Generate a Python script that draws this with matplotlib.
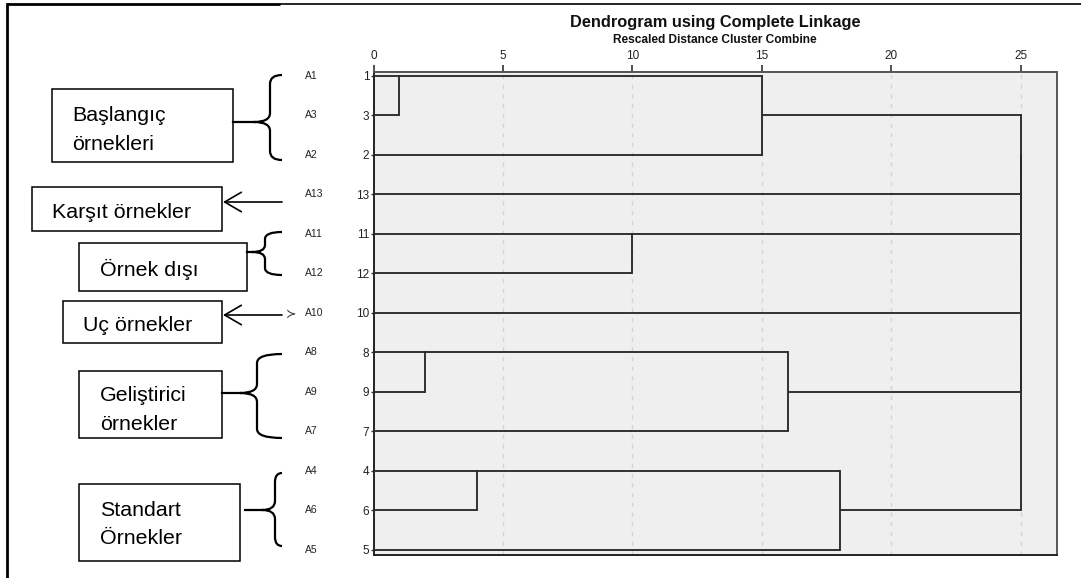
import matplotlib
matplotlib.use("Agg")
import matplotlib.pyplot as plt
from matplotlib.path import Path
from matplotlib.patches import PathPatch, Rectangle
import matplotlib.transforms as mtrans

# ---------------- data ----------------
leaf_order = [1, 3, 2, 13, 11, 12, 10, 8, 9, 7, 4, 6, 5]
leaf_names = ["A1", "A3", "A2", "A13", "A11", "A12", "A10", "A8", "A9", "A7", "A4", "A6", "A5"]
merge_a = [1, 8, 4, 11, 1, 8, 4, 1, 1, 1, 1, 1]
merge_b = [3, 9, 6, 12, 2, 7, 5, 13, 11, 10, 8, 4]
merge_dist = [1, 2, 4, 10, 15, 16, 18, 25, 25, 25, 25, 25]
x_ticks = [0, 5, 10, 15, 20, 25]
title = "Dendrogram using Complete Linkage"
subtitle = "Rescaled Distance Cluster Combine"

W, H = 1081, 578
fig = plt.figure(figsize=(W / 100, H / 100), dpi=100)
fig.patch.set_facecolor("white")

FONT = ["Liberation Sans", "DejaVu Sans"]
NARROW = ["Liberation Sans Narrow", "Liberation Sans", "DejaVu Sans"]

# main dendrogram axes (pixel layout)
L, R, T, B = 373.5, 1057, 72, 555
ax = fig.add_axes([L / W, 1 - B / H, (R - L) / W, (B - T) / H])
ax.set_facecolor("#efefef")
ax.set_xlim(0, 26.39)
ax.set_ylim(12.127, -0.101)

# grid
for xv in x_ticks[1:]:
    ax.axvline(xv, color="#d4d4d4", lw=1.0, ls=(0, (3, 4)), zorder=1)

# dendrogram
row = {c: i for i, c in enumerate(leaf_order)}
pos = {c: (0.0, float(row[c])) for c in leaf_order}
LC = "#2a2a2a"
LW = 1.35
for a, b, d in zip(merge_a, merge_b, merge_dist):
    xa, ya = pos[a]
    xb, yb = pos[b]
    ax.plot([xa, d], [ya, ya], color=LC, lw=LW, solid_capstyle="butt", zorder=3)
    ax.plot([xb, d], [yb, yb], color=LC, lw=LW, solid_capstyle="butt", zorder=3)
    ax.plot([d, d], [ya, yb], color=LC, lw=LW, solid_capstyle="projecting", zorder=3)
    pos[a] = (float(d), float(int((ya + yb) // 2)))
    del pos[b]

for side in ["left", "bottom"]:
    ax.spines[side].set_color("#222222")
    ax.spines[side].set_linewidth(1.4)
for side in ["top", "right"]:
    ax.spines[side].set_color("#555555")
    ax.spines[side].set_linewidth(1.4)

ax.xaxis.tick_top()
ax.set_xticks(x_ticks)
ax.set_xticklabels([str(v) for v in x_ticks], fontfamily=FONT, fontsize=8.5, color="#222222")
ax.tick_params(axis="x", direction="out", length=5, width=1.2, color="#333333", pad=2)
ax.set_yticks(range(len(leaf_order)))
ax.set_yticklabels([str(v) for v in leaf_order], fontfamily=FONT, fontsize=8.5, color="#222222")
ax.tick_params(axis="y", direction="out", length=2, width=1.0, color="#333333", pad=1)

# leaf names
trans = mtrans.blended_transform_factory(fig.transFigure, ax.transData)
for i, nm in enumerate(leaf_names):
    ax.text(305 / W, i, nm, transform=trans, fontfamily=FONT, fontsize=7.5,
            ha="left", va="center", color="#222222")

# titles
cx = (L + R) / 2 / W
fig.text(cx, 1 - 27 / H, title, ha="center", va="baseline", fontfamily=FONT,
         fontsize=11.8, fontweight="bold", color="#111111")
fig.text(cx, 1 - 43 / H, subtitle, ha="center", va="baseline", fontfamily=NARROW,
         fontsize=8.6, fontweight="bold", color="#111111")

# ---------------- overlay annotations (pixel coordinates) ----------------
ov = fig.add_axes([0, 0, 1, 1], zorder=5)
ov.set_xlim(0, W)
ov.set_ylim(H, 0)
ov.axis("off")
ov.patch.set_alpha(0)

# outer frame lines
ov.plot([7, 280], [4, 4], color="black", lw=2.0, solid_capstyle="butt")
ov.plot([280, W], [4, 4], color="black", lw=1.2, solid_capstyle="butt")
ov.plot([7, 7], [4, H], color="black", lw=2.0)

def box(x0, y0, x1, y1):
    ov.add_patch(Rectangle((x0, y0), x1 - x0, y1 - y0, fill=False, ec="black", lw=1.1))

def brace(x_right, x_mid, x_tip, y_top, y_bot, y_tip, x_line, r=9):
    verts = [
        (x_right, y_top), (x_mid, y_top), (x_mid, y_top + r),
        (x_mid, y_tip - r), (x_mid, y_tip), (x_tip, y_tip),
        (x_mid, y_tip), (x_mid, y_tip + r),
        (x_mid, y_bot - r), (x_mid, y_bot), (x_right, y_bot),
    ]
    codes = [Path.MOVETO, Path.CURVE3, Path.CURVE3,
             Path.LINETO, Path.CURVE3, Path.CURVE3,
             Path.CURVE3, Path.CURVE3,
             Path.LINETO, Path.CURVE3, Path.CURVE3]
    ov.add_patch(PathPatch(Path(verts, codes), fill=False, ec="black", lw=1.6))
    ov.plot([x_line, x_tip], [y_tip, y_tip], color="black", lw=1.6)

def arrow(y, x_from=282, x_to=223):
    ov.annotate("", xy=(x_to, y), xytext=(x_from, y),
                arrowprops=dict(arrowstyle="->,head_length=1.2,head_width=0.7",
                                color="black", lw=1.2, shrinkA=0, shrinkB=0))

def label(x, y, s):
    ov.text(x, y, s, fontfamily=FONT, fontsize=15.4, ha="left", va="baseline", color="black")

# Başlangıç örnekleri
box(52, 89, 233, 162)
label(72, 121, "Başlangıç")
label(72, 150, "örnekleri")
brace(282, 270, 254, 75, 160, 122, 233)

# Karşıt örnekler
box(32, 187, 222, 231)
label(52, 218, "Karşıt örnekler")
arrow(202)

# Örnek dışı
box(79, 243, 247, 291)
label(100, 276, "Örnek dışı")
brace(282, 265, 252, 232, 275, 252, 247, r=7)

# Uç örnekler
box(63, 301, 222, 343)
label(83, 331, "Uç örnekler")
arrow(315)
ov.text(291, 315, "≻", fontfamily=["DejaVu Sans"], fontsize=9, ha="center", va="center", color="#333333")

# Geliştirici örnekler
box(79, 371, 222, 438)
label(100, 401, "Geliştirici")
label(100, 430, "örnekler")
brace(282, 257, 240, 354, 438, 393, 222)

# Standart Örnekler
box(79, 484, 240, 561)
label(100, 516, "Standart")
label(100, 544, "Örnekler")
brace(282, 275, 262, 473, 546, 510, 245)

fig.savefig("out.png", dpi=100)
